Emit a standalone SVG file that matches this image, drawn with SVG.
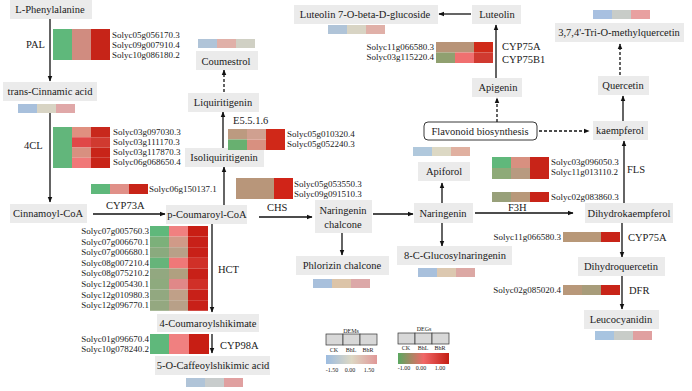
<svg xmlns="http://www.w3.org/2000/svg" width="692" height="391" viewBox="0 0 692 391" font-family="'Liberation Serif','Times New Roman','DejaVu Serif',serif">
<style>
text{font-family:"Liberation Serif","Times New Roman","DejaVu Serif",serif;fill:#1a1a1a}
.bg{fill:#ebebeb}
.n text{font-size:10.5px;text-anchor:middle}
.e{font-size:10.5px}
.g{font-size:9px}
.ge{font-size:9px;text-anchor:end}
.c path{stroke:#111;stroke-width:1.3;fill:none;marker-end:url(#ah)}
.c path.d{stroke-dasharray:3,2}
.lg{font-size:6px;text-anchor:middle}
</style>
<defs>
<marker id="ah" viewBox="0 0 10 10" refX="9" refY="5" markerWidth="6" markerHeight="6" markerUnits="userSpaceOnUse" orient="auto"><path d="M0 1L10 5L0 9z" fill="#111"/></marker>
<linearGradient id="gm" x1="0" x2="1"><stop offset="0" stop-color="#9cbce0"/><stop offset="0.5" stop-color="#ddd8c4"/><stop offset="1" stop-color="#e09898"/></linearGradient>
<linearGradient id="gg" x1="0" x2="1"><stop offset="0" stop-color="#5aa860"/><stop offset="0.5" stop-color="#f06868"/><stop offset="1" stop-color="#c41e14"/></linearGradient>
</defs>
<rect width="692" height="391" fill="#fff"/>

<g id="connectors" class="c">
<path d="M50 18V81"/>
<path d="M50 113V202"/>
<path d="M93 214H165"/>
<path d="M212 224V312"/>
<path d="M212 334V353"/>
<path d="M224 205V167"/>
<path d="M223 148V112"/>
<path class="d" d="M224 92V70"/>
<path d="M259 217H312"/>
<path d="M342 233V255"/>
<path d="M373 214H413"/>
<path d="M442 203V183"/>
<path d="M442 223V246"/>
<path d="M475 213H573"/>
<path d="M624 203V141"/>
<path d="M623 121V96"/>
<path class="d" d="M620 75V44"/>
<path class="d" d="M539 131H589"/>
<path class="d" d="M497 122V98"/>
<path d="M496 78V25"/>
<path d="M471 14H439"/>
<path d="M622 222V257"/>
<path d="M622 276V309"/>
</g>

<g id="n-lphe" class="n"><rect class="bg" x="10" y="0" width="82" height="19"/><text x="50" y="13">L-Phenylalanine</text></g>
<g id="n-tca" class="n"><rect class="bg" x="3" y="82" width="94" height="19"/><text x="50" y="95">trans-Cinnamic acid</text>
<rect x="18" y="104" width="19" height="9" fill="#a8c0dc"/><rect x="37" y="104" width="19" height="9" fill="#d8d4c4"/><rect x="56" y="104" width="19" height="9" fill="#e0a8a8"/></g>
<g id="n-ccoa" class="n"><rect class="bg" x="10" y="204" width="77" height="19"/><text x="48" y="217">Cinnamoyl-CoA</text></g>
<g id="n-pcoa" class="n"><rect class="bg" x="166" y="205" width="81" height="19"/><text x="207" y="218">p-Coumaroyl-CoA</text></g>
<g id="n-4cs" class="n"><rect class="bg" x="157" y="314" width="102" height="18"/><text x="208" y="327">4-Coumaroylshikimate</text></g>
<g id="n-5oc" class="n"><rect class="bg" x="155" y="356" width="115" height="19"/><text x="213" y="369">5-O-Caffeoylshikimic acid</text>
<rect x="186" y="378" width="19" height="9" fill="#b0c4d8"/><rect x="205" y="378" width="19" height="9" fill="#c8cccc"/><rect x="224" y="378" width="19" height="9" fill="#e0a0a0"/></g>
<g id="n-iso" class="n"><rect class="bg" x="185" y="148" width="79" height="19"/><text x="224" y="161">Isoliquiritigenin</text></g>
<g id="n-liq" class="n"><rect class="bg" x="188" y="93" width="71" height="19"/><text x="223" y="106">Liquiritigenin</text></g>
<g id="n-cou" class="n"><rect class="bg" x="196" y="51" width="62" height="19"/><text x="226" y="65">Coumestrol</text>
<rect x="198" y="39" width="19" height="9" fill="#b0c4d8"/><rect x="217" y="39" width="19" height="9" fill="#e0b0a8"/><rect x="236" y="39" width="19" height="9" fill="#d0d0c4"/></g>
<g id="n-nch" class="n"><rect class="bg" x="315" y="200" width="57" height="33"/><text x="343" y="214">Naringenin</text><text x="343" y="228">chalcone</text></g>
<g id="n-phl" class="n"><rect class="bg" x="296" y="256" width="93" height="19"/><text x="342" y="269">Phlorizin chalcone</text>
<rect x="313" y="279" width="19" height="9" fill="#a8c0dc"/><rect x="332" y="279" width="19" height="9" fill="#dcc4a8"/><rect x="351" y="279" width="19" height="9" fill="#dca8a8"/></g>
<g id="n-nar" class="n"><rect class="bg" x="414" y="203" width="59" height="20"/><text x="443" y="217">Naringenin</text></g>
<g id="n-api" class="n"><rect class="bg" x="418" y="162" width="52" height="19"/><text x="444" y="175">Apiforol</text>
<rect x="413" y="147" width="19" height="9" fill="#b0c8dc"/><rect x="432" y="147" width="19" height="9" fill="#dcd8c4"/><rect x="451" y="147" width="19" height="9" fill="#e0b0a0"/></g>
<g id="n-8cg" class="n"><rect class="bg" x="397" y="246" width="115" height="19"/><text x="455" y="259">8-C-Glucosylnaringenin</text>
<rect x="418" y="268" width="19" height="9" fill="#a8c0dc"/><rect x="437" y="268" width="19" height="9" fill="#dcc8b0"/><rect x="456" y="268" width="19" height="9" fill="#dca8a4"/></g>
<g id="n-flav"><rect x="424" y="122" width="113" height="18" rx="4" fill="#fff" stroke="#222" stroke-width="0.9"/><text x="480" y="135" font-size="10.5" text-anchor="middle">Flavonoid biosynthesis</text></g>
<g id="n-apg" class="n"><rect class="bg" x="472" y="78" width="50" height="19"/><text x="498" y="91">Apigenin</text></g>
<g id="n-lut" class="n"><rect class="bg" x="472" y="5" width="49" height="19"/><text x="497" y="18">Luteolin</text></g>
<g id="n-l7g" class="n"><rect class="bg" x="294" y="5" width="144" height="19"/><text x="365" y="18">Luteolin 7-O-beta-D-glucoside</text>
<rect x="328" y="25" width="19" height="9" fill="#b0c4d8"/><rect x="347" y="25" width="19" height="9" fill="#d8d4c4"/><rect x="366" y="25" width="19" height="9" fill="#e0b0a8"/></g>
<g id="n-tri" class="n"><rect class="bg" x="555" y="23" width="129" height="19"/><text x="619" y="36">3,7,4'-Tri-O-methylquercetin</text>
<rect x="593" y="10" width="19" height="9" fill="#a8c0e0"/><rect x="612" y="10" width="19" height="9" fill="#c8ccc8"/><rect x="631" y="10" width="19" height="9" fill="#e8a0a0"/></g>
<g id="n-que" class="n"><rect class="bg" x="598" y="76" width="51" height="19"/><text x="623" y="89">Quercetin</text></g>
<g id="n-kae" class="n"><rect class="bg" x="593" y="121" width="55" height="19"/><text x="620" y="134">kaempferol</text></g>
<g id="n-dhk" class="n"><rect class="bg" x="585" y="203" width="88" height="20"/><text x="629" y="217">Dihydrokaempferol</text></g>
<g id="n-dhq" class="n"><rect class="bg" x="578" y="257" width="87" height="19"/><text x="621" y="270">Dihydroquercetin</text></g>
<g id="n-leu" class="n"><rect class="bg" x="584" y="310" width="75" height="19"/><text x="621" y="323">Leucocyanidin</text>
<rect x="595" y="331" width="19" height="9" fill="#a8c4e0"/><rect x="614" y="331" width="19" height="9" fill="#c8ccc8"/><rect x="633" y="331" width="19" height="9" fill="#e0a0a0"/></g>

<g id="hm-pal">
<rect x="53" y="29" width="19" height="31" fill="#5fb87b"/><rect x="72" y="29" width="19" height="31" fill="#d08c80"/><rect x="91" y="29" width="19" height="31" fill="#c62418"/>
<text class="e" x="26" y="48">PAL</text>
<text class="g" x="112" y="38">Solyc05g056170.3</text><text class="g" x="112" y="48">Solyc09g007910.4</text><text class="g" x="112" y="58">Solyc10g086180.2</text>
</g>
<g id="hm-4cl">
<rect x="53" y="127" width="19" height="41" fill="#62b67b"/>
<rect x="72" y="127" width="19" height="10.25" fill="#e09080"/><rect x="91" y="127" width="19" height="10.25" fill="#c8281c"/>
<rect x="72" y="137.25" width="19" height="10.25" fill="#e04848"/><rect x="91" y="137.25" width="19" height="10.25" fill="#d03a30"/>
<rect x="72" y="147.5" width="19" height="10.25" fill="#d89080"/><rect x="91" y="147.5" width="19" height="10.25" fill="#c82418"/>
<rect x="72" y="157.75" width="19" height="10.25" fill="#f07878"/><rect x="91" y="157.75" width="19" height="10.25" fill="#c82418"/>
<text class="e" x="24" y="149">4CL</text>
<text class="g" x="113" y="135">Solyc03g097030.3</text><text class="g" x="113" y="145">Solyc03g111170.3</text><text class="g" x="113" y="155">Solyc03g117870.3</text><text class="g" x="113" y="165">Solyc06g068650.4</text>
</g>
<g id="hm-cyp73a">
<rect x="91" y="184" width="19" height="10" fill="#5fb87b"/><rect x="110" y="184" width="19" height="10" fill="#e09088"/><rect x="129" y="184" width="19" height="10" fill="#c82418"/>
<text class="g" x="149" y="192">Solyc06g150137.1</text>
<text class="e" x="106" y="209">CYP73A</text>
</g>
<g id="hm-hct">
<rect x="150" y="226" width="19" height="10.6" fill="#5fb87b"/><rect x="169" y="226" width="19" height="10.6" fill="#f08080"/><rect x="188" y="226" width="20" height="10.6" fill="#c81e14"/>
<rect x="150" y="236.6" width="19" height="10.6" fill="#7cb07a"/><rect x="169" y="236.6" width="19" height="10.6" fill="#d09a88"/><rect x="188" y="236.6" width="20" height="10.6" fill="#c82018"/>
<rect x="150" y="247.2" width="19" height="10.6" fill="#8aaa7e"/><rect x="169" y="247.2" width="19" height="10.6" fill="#b8a088"/><rect x="188" y="247.2" width="20" height="10.6" fill="#c82018"/>
<rect x="150" y="257.8" width="19" height="10.6" fill="#66b47a"/><rect x="169" y="257.8" width="19" height="10.6" fill="#f07878"/><rect x="188" y="257.8" width="20" height="10.6" fill="#d03028"/>
<rect x="150" y="268.4" width="19" height="10.6" fill="#92a880"/><rect x="169" y="268.4" width="19" height="10.6" fill="#b0a080"/><rect x="188" y="268.4" width="20" height="10.6" fill="#c82018"/>
<rect x="150" y="279" width="19" height="10.6" fill="#8eaa7e"/><rect x="169" y="279" width="19" height="10.6" fill="#e08888"/><rect x="188" y="279" width="20" height="10.6" fill="#d03028"/>
<rect x="150" y="289.6" width="19" height="10.6" fill="#92a880"/><rect x="169" y="289.6" width="19" height="10.6" fill="#c0a088"/><rect x="188" y="289.6" width="20" height="10.6" fill="#c82018"/>
<rect x="150" y="300.2" width="19" height="10.6" fill="#94a880"/><rect x="169" y="300.2" width="19" height="10.6" fill="#b8a088"/><rect x="188" y="300.2" width="20" height="10.6" fill="#c82018"/>
<text class="ge" x="149" y="234">Solyc07g005760.3</text><text class="ge" x="149" y="244.6">Solyc07g006670.1</text><text class="ge" x="149" y="255.2">Solyc07g006680.1</text><text class="ge" x="149" y="265.8">Solyc08g007210.4</text>
<text class="ge" x="149" y="276.4">Solyc08g075210.2</text><text class="ge" x="149" y="287">Solyc12g005430.1</text><text class="ge" x="149" y="297.6">Solyc12g010980.3</text><text class="ge" x="149" y="308.2">Solyc12g096770.1</text>
<text class="e" x="218" y="273">HCT</text>
</g>
<g id="hm-cyp98a">
<rect x="150" y="334" width="19" height="20" fill="#5fb87b"/><rect x="169" y="334" width="20" height="20" fill="#f08080"/><rect x="189" y="334" width="20" height="20" fill="#c81e14"/>
<text class="ge" x="149" y="342">Solyc01g096670.4</text><text class="ge" x="149" y="352">Solyc10g078240.2</text>
<text class="e" x="220" y="349">CYP98A</text>
</g>
<g id="hm-e5516">
<rect x="228" y="129" width="19" height="10.5" fill="#bc9a80"/><rect x="247" y="129" width="19" height="10.5" fill="#d0a090"/><rect x="266" y="129" width="19" height="21" fill="#d02818"/>
<rect x="228" y="139.5" width="19" height="10.5" fill="#68b070"/><rect x="247" y="139.5" width="19" height="10.5" fill="#d89080"/>
<text class="e" x="233" y="124">E5.5.1.6</text>
<text class="g" x="287" y="137">Solyc05g010320.4</text><text class="g" x="287" y="147">Solyc05g052240.3</text>
</g>
<g id="hm-chs">
<rect x="236" y="178" width="38" height="21" fill="#b8967a"/><rect x="274" y="178" width="19" height="21" fill="#d02418"/>
<text class="g" x="294" y="187">Solyc05g053550.3</text><text class="g" x="294" y="197">Solyc09g091510.3</text>
<text class="e" x="267" y="211">CHS</text>
</g>
<g id="hm-cyp75a-top">
<rect x="436" y="42" width="38" height="10.5" fill="#b89478"/><rect x="474" y="42" width="19" height="10.5" fill="#d02a18"/>
<rect x="436" y="52.5" width="19" height="10.5" fill="#90a070"/><rect x="455" y="52.5" width="19" height="10.5" fill="#f07070"/><rect x="474" y="52.5" width="19" height="10.5" fill="#d03a30"/>
<text class="ge" x="434" y="50">Solyc11g066580.3</text><text class="ge" x="434" y="60">Solyc03g115220.4</text>
<text class="e" x="502" y="50">CYP75A</text><text class="e" x="502" y="63">CYP75B1</text>
</g>
<g id="hm-fls">
<rect x="492" y="157" width="19" height="11" fill="#60b87b"/><rect x="511" y="157" width="19" height="11" fill="#d89080"/><rect x="530" y="157" width="19" height="22" fill="#c82418"/>
<rect x="492" y="168" width="19" height="11" fill="#8eaa78"/><rect x="511" y="168" width="19" height="11" fill="#b89a80"/>
<text class="g" x="551" y="165">Solyc03g096050.3</text><text class="g" x="551" y="175">Solyc11g013110.2</text>
<text class="e" x="627" y="173">FLS</text>
</g>
<g id="hm-f3h">
<rect x="492" y="192" width="19" height="10" fill="#98a07a"/><rect x="511" y="192" width="19" height="10" fill="#b8987a"/><rect x="530" y="192" width="19" height="10" fill="#c82418"/>
<text class="g" x="551" y="200">Solyc02g083860.3</text>
<text class="e" x="508" y="211">F3H</text>
</g>
<g id="hm-cyp75a-r">
<rect x="563" y="232" width="38" height="10" fill="#b89878"/><rect x="601" y="232" width="19" height="10" fill="#c82418"/>
<text class="ge" x="561" y="240">Solyc11g066580.3</text>
<text class="e" x="628" y="241">CYP75A</text>
</g>
<g id="hm-dfr">
<rect x="563" y="285" width="19" height="10" fill="#b8987a"/><rect x="582" y="285" width="19" height="10" fill="#a89c7a"/><rect x="601" y="285" width="19" height="10" fill="#c82418"/>
<text class="ge" x="561" y="293">Solyc02g085020.4</text>
<text class="e" x="629" y="294">DFR</text>
</g>

<g id="legend-dems">
<text class="lg" x="351" y="333">DEMs</text>
<rect x="326" y="334" width="17" height="11" fill="#d8d8d8" stroke="#333" stroke-width="0.7"/><rect x="343" y="334" width="17" height="11" fill="#d8d8d8" stroke="#333" stroke-width="0.7"/><rect x="360" y="334" width="17" height="11" fill="#d8d8d8" stroke="#333" stroke-width="0.7"/>
<text class="lg" x="334" y="352">CK</text><text class="lg" x="351" y="352">BhL</text><text class="lg" x="368" y="352">BhR</text>
<rect x="326" y="355" width="51" height="9" fill="url(#gm)"/>
<text class="lg" x="332" y="372">-1.50</text><text class="lg" x="350" y="372">0.00</text><text class="lg" x="369" y="372">1.50</text>
</g>
<g id="legend-degs">
<text class="lg" x="424" y="331">DEGs</text>
<rect x="398" y="333" width="17" height="11" fill="#d8d8d8" stroke="#333" stroke-width="0.7"/><rect x="415" y="333" width="17" height="11" fill="#d8d8d8" stroke="#333" stroke-width="0.7"/><rect x="432" y="333" width="17" height="11" fill="#d8d8d8" stroke="#333" stroke-width="0.7"/>
<text class="lg" x="406" y="350">CK</text><text class="lg" x="423" y="350">BhL</text><text class="lg" x="440" y="350">BhR</text>
<rect x="398" y="353" width="51" height="11" fill="url(#gg)"/>
<text class="lg" x="404" y="370">-1.00</text><text class="lg" x="421" y="370">0.00</text><text class="lg" x="440" y="370">1.00</text>
</g>
</svg>
